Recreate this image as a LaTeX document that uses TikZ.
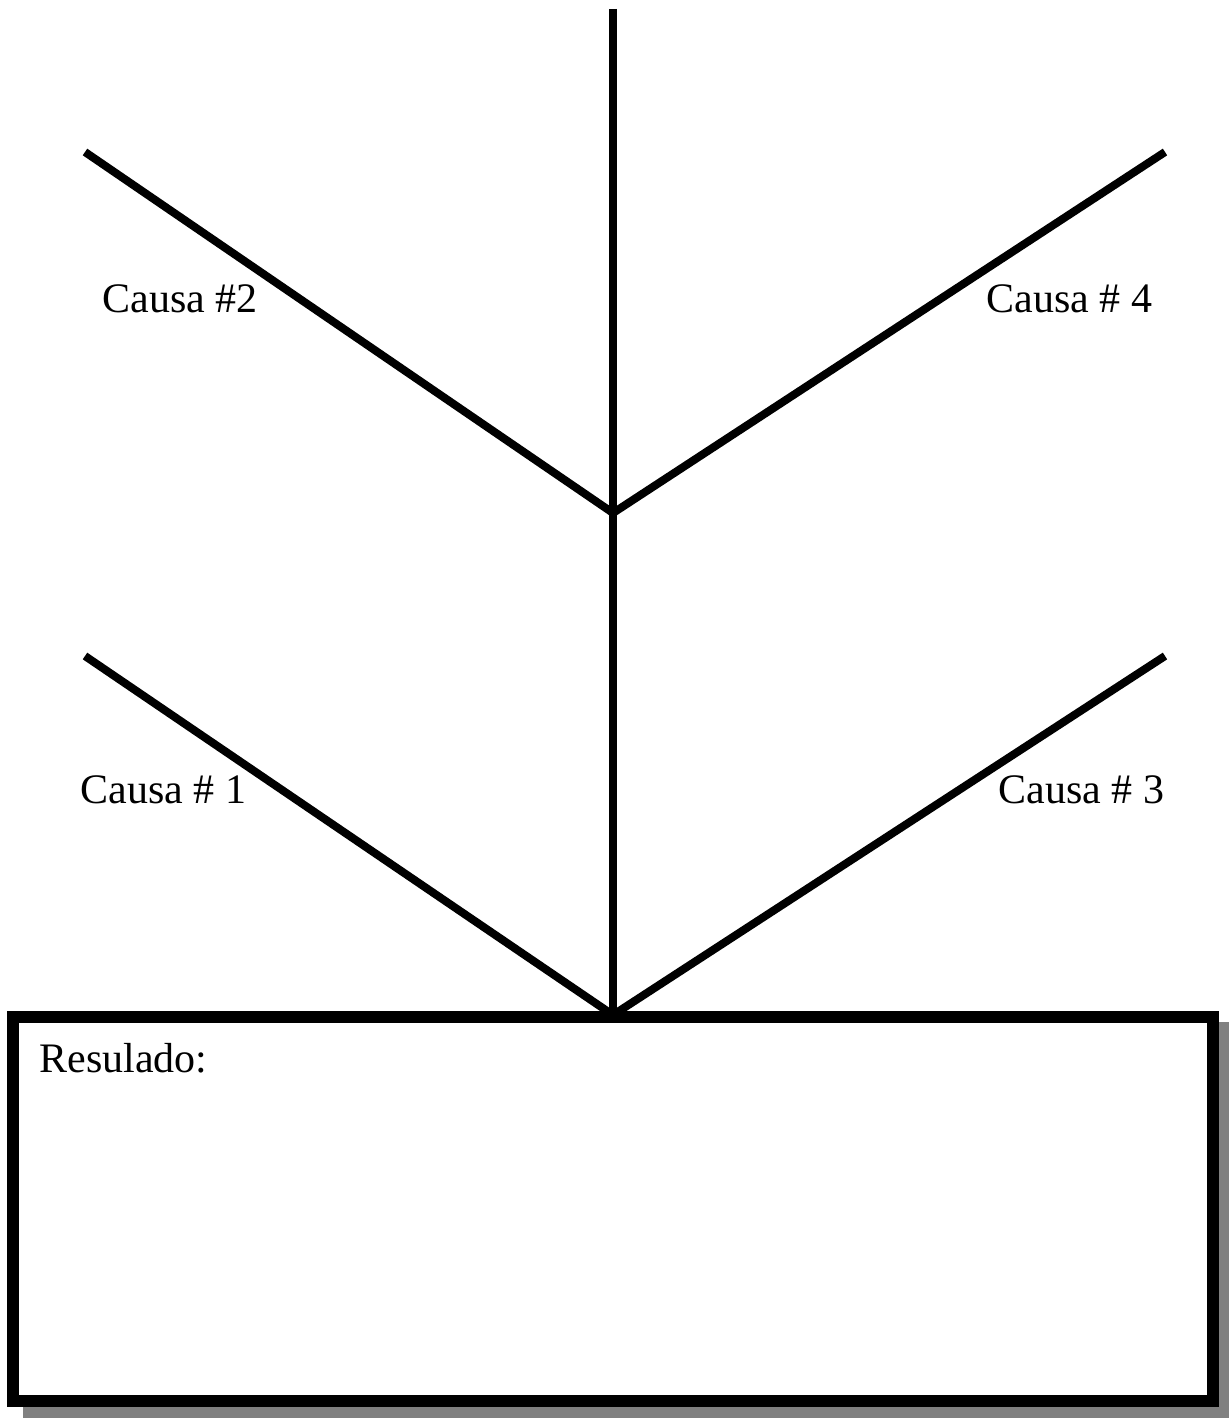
\documentclass[tikz,border=0pt]{standalone}
\usepackage{fontspec}
\setmainfont{Liberation Serif}
\definecolor{shadowgray}{HTML}{808080}
\begin{document}
\begin{tikzpicture}[x=0.5pt,y=-0.5pt,
  branch/.style={line width=4pt, line cap=butt, black},
  spine/.style={line width=4pt, line cap=butt, black},
  lbl/.style={anchor=base west, inner sep=0pt, font=\fontsize{21pt}{25pt}\selectfont}]
\useasboundingbox (0,0) rectangle (1229,1418);
% coordinates
\coordinate (top) at (613,9);
\coordinate (mid) at (613,513);
\coordinate (bot) at (613,1015);
\coordinate (ul) at (85,152);
\coordinate (ur) at (1165,152);
\coordinate (ll) at (85,656);
\coordinate (lr) at (1165,656);
% lines
\draw[spine] (top) -- (bot);
\draw[branch] (ul) -- (mid) -- (ur);
\draw[branch] (ll) -- (bot) -- (lr);
% result box with shadow
\fill[shadowgray] (23,1022) rectangle (1229,1418);
\draw[line width=6pt, fill=white] (13,1017) rectangle (1213,1401);
% labels
\node[lbl] (c2) at (102,312) {Causa \#2};
\node[lbl] (c4) at (986,312) {Causa \# 4};
\node[lbl] (c1) at (80,803) {Causa \# 1};
\node[lbl] (c3) at (998,803) {Causa \# 3};
\node[lbl] (res) at (39,1072) {Resulado:};
\end{tikzpicture}
\end{document}
